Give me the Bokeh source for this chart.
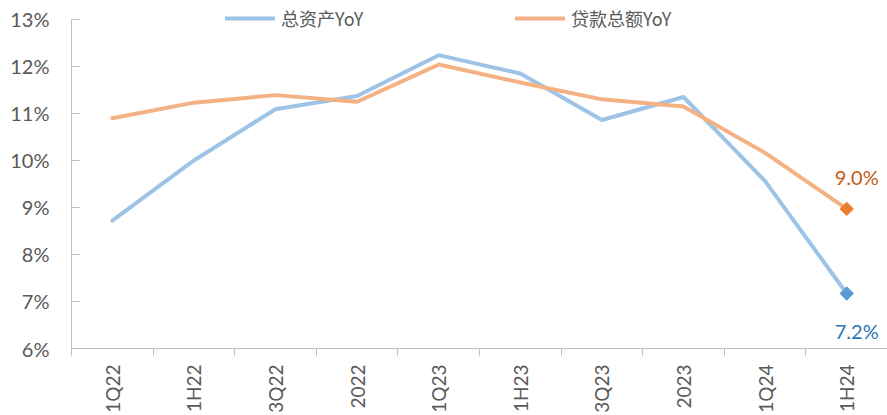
import math
from bokeh.plotting import figure
from bokeh.models import (ColumnDataSource, Range1d, FixedTicker, Legend, LegendItem)
from bokeh.core.properties import value
from bokeh.embed import file_html
from bokeh.resources import INLINE

categories = ["1Q22", "1H22", "3Q22", "2022", "1Q23", "1H23", "3Q23", "2023", "1Q24", "1H24"]
total_assets_yoy = [8.72, 10.00, 11.09, 11.37, 12.24, 11.85, 10.86, 11.35, 9.56, 7.17]
loans_yoy = [10.90, 11.23, 11.39, 11.25, 12.04, 11.66, 11.30, 11.15, 10.16, 8.97]
end_labels = ["7.2%", "9.0%"]
y_ticks = [6, 7, 8, 9, 10, 11, 12, 13]

xpos = [i + 0.5 for i in range(len(categories))]
src = ColumnDataSource(dict(x=xpos, assets=total_assets_yoy, loans=loans_yoy))

# frame runs to the top of the canvas so the legend (drawn inside the frame) is not clipped;
# the axis itself is bounded to 6%..13%
p = figure(width=887, height=415, output_backend="svg", toolbar_location=None,
           x_range=Range1d(0, len(categories)), y_range=Range1d(6, 13.403),
           min_border_left=71, min_border_right=0, min_border_top=0, min_border_bottom=66)
p.outline_line_color = None
p.grid.grid_line_color = None
p.background_fill_color = "white"

TICK_FONT = "Lato"
GRAY = "#595959"
AXIS = "#BFBFBF"

# x axis
xa = p.xaxis[0]
xa.ticker = FixedTicker(ticks=xpos, minor_ticks=list(range(len(categories) + 1)))
xa.major_label_overrides = {x: c for x, c in zip(xpos, categories)}
xa.major_label_orientation = math.pi / 2
xa.major_tick_out = 0
xa.major_tick_in = 0
xa.minor_tick_out = 7
xa.minor_tick_in = 0
xa.minor_tick_line_color = AXIS
xa.axis_line_color = AXIS
xa.major_label_standoff = 9
xa.major_label_text_font = TICK_FONT
xa.major_label_text_font_size = "19px"
xa.major_label_text_color = GRAY

# y axis
ya = p.yaxis[0]
ya.ticker = FixedTicker(ticks=y_ticks)
ya.bounds = (y_ticks[0], y_ticks[-1])
ya.major_label_overrides = {t: f"{t}%" for t in y_ticks}
ya.major_tick_in = 8
ya.major_tick_out = 0
ya.major_tick_line_color = AXIS
ya.minor_tick_line_color = None
ya.axis_line_color = AXIS
ya.major_label_standoff = 22
ya.major_label_text_font = TICK_FONT
ya.major_label_text_font_size = "20px"
ya.major_label_text_color = GRAY

BLUE_LINE = "#9DC3E6"
ORANGE_LINE = "#F4B183"
r1 = p.line("x", "assets", source=src, line_color=BLUE_LINE, line_width=4, line_join="round", line_cap="round")
r2 = p.line("x", "loans", source=src, line_color=ORANGE_LINE, line_width=4, line_join="round", line_cap="round")

last = len(categories) - 1
end_src = ColumnDataSource(dict(
    x=[xpos[last], xpos[last]],
    y=[total_assets_yoy[last], loans_yoy[last]],
    c=["#5B9BD5", "#ED7D31"],
    tc=["#2E75B6", "#C55A11"],
    lab=end_labels,
    yo=[37, -32],
))
p.scatter("x", "y", source=end_src, marker="square", angle=math.pi / 4, size=9.5,
          fill_color="c", line_color="c")
p.text("x", "y", text="lab", source=end_src, x_offset=10, y_offset="yo", text_color="tc",
       text_align="center", text_baseline="middle", text_font=value(TICK_FONT), text_font_size="20px")

def mk_legend(label, r, xloc):
    lg = Legend(items=[LegendItem(label=label, renderers=[r])], location=(xloc, 317),
                orientation="horizontal", glyph_width=50, glyph_height=20, label_standoff=6,
                padding=0, margin=0, border_line_color=None, background_fill_alpha=0,
                label_text_font="Noto Sans CJK SC", label_text_font_size="18px",
                label_text_color=GRAY, label_height=20)
    p.add_layout(lg)

mk_legend("总资产YoY", r1, 154)
mk_legend("贷款总额YoY", r2, 444)

open("out.html", "w").write(file_html(p, INLINE))
